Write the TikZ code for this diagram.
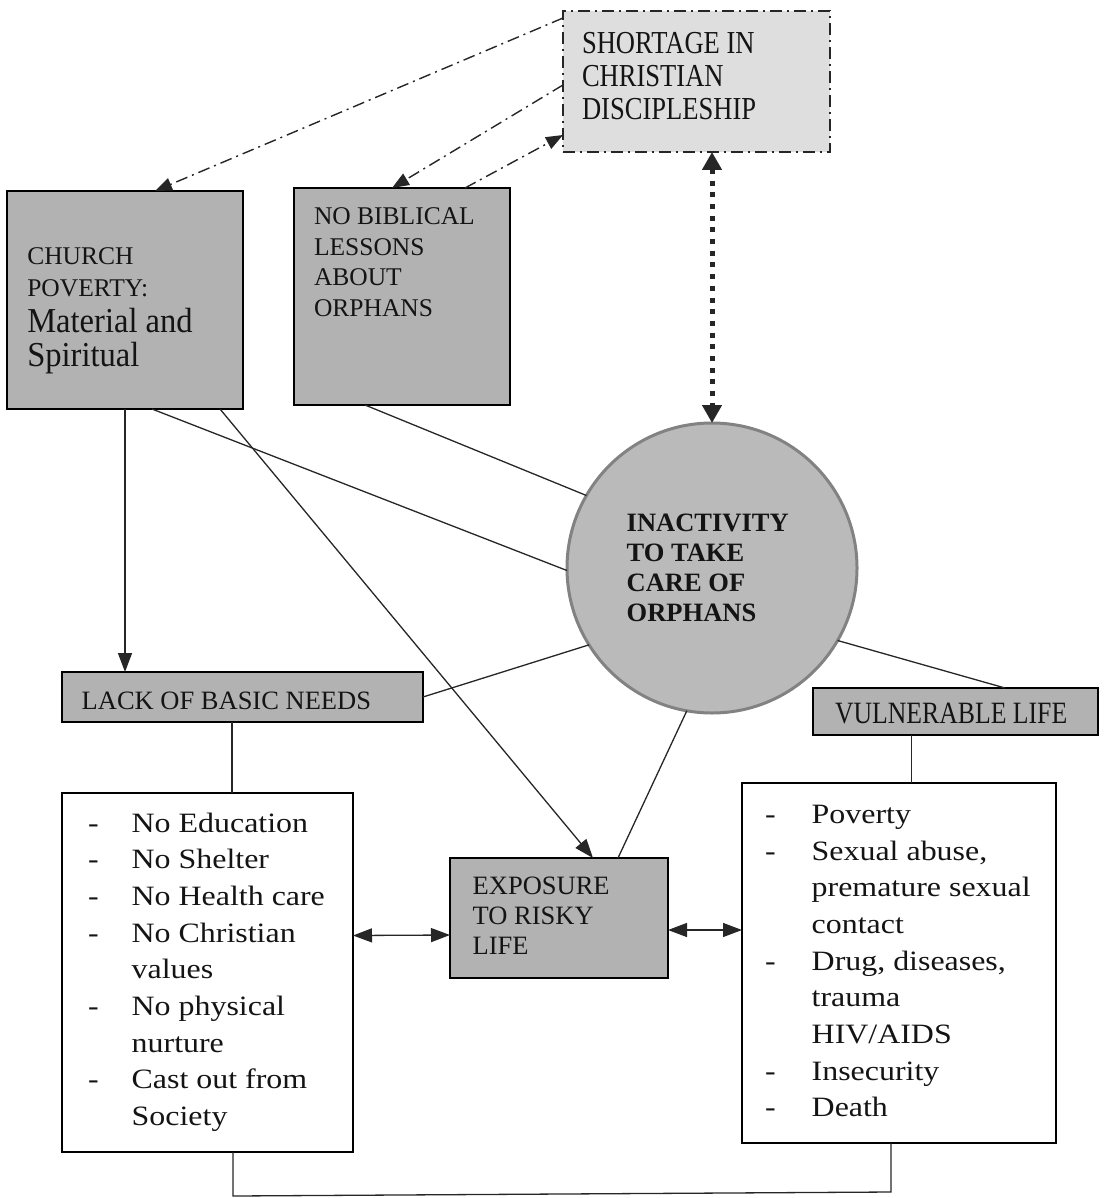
\documentclass[tikz,border=0pt]{standalone}
\usepackage{fontspec}
\setmainfont{Liberation Serif}
\newfontfamily\fnarrow{Liberation Serif}[FakeStretch=0.83]
\newfontfamily\fmid{Liberation Serif}[FakeStretch=0.93]
\newfontfamily\fwide{Liberation Serif}[FakeStretch=1.14]
\usetikzlibrary{arrows.meta,calc}
\definecolor{boxgray}{RGB}{178,178,178}
\definecolor{palegray}{RGB}{222,222,222}
\definecolor{circgray}{RGB}{186,186,186}
\definecolor{circedge}{RGB}{130,130,130}
\newcommand{\litemA}[1]{\makebox[43.7pt][l]{-}#1}
\newcommand{\lcontA}[1]{\hspace*{43.7pt}#1}
\newcommand{\litemB}[1]{\makebox[46.7pt][l]{-}#1}
\newcommand{\lcontB}[1]{\hspace*{46.7pt}#1}
\begin{document}
\begin{tikzpicture}[x=1pt,y=-1pt,
  graybox/.style={draw=black, line width=2pt, fill=boxgray, inner sep=0pt, outer sep=0pt, anchor=north west},
  listbox/.style={draw=black, line width=1.6pt, fill=white, inner sep=0pt, outer sep=0pt, anchor=north west},
  txt/.style={inner sep=0pt, outer sep=0pt, align=left, anchor=north west, text=black!92},
  conn/.style={line width=1.3pt, draw=black!85},
  tip/.style={-{Triangle[length=19pt,width=14pt]}},
  dbl/.style={{Triangle[length=19pt,width=14pt]}-{Triangle[length=19pt,width=14pt]}},
  dashdot/.style={line width=1.4pt, draw=black!85, dash pattern=on 12pt off 5pt on 2pt off 5pt},
  ddtip/.style={-{Triangle[length=17pt,width=13pt]}}
]
\useasboundingbox (0,0) rectangle (1106,1198);

% boxes
\node[draw=black!85, dashdot, fill=palegray, inner sep=0pt, outer sep=0pt, anchor=north west,
      minimum width=267pt, minimum height=141pt] (short) at (563,11) {};
\node[graybox, minimum width=236pt, minimum height=218pt] (church) at (7,191) {};
\node[graybox, minimum width=216pt, minimum height=217pt] (bible) at (294,188) {};
\node[circle, fill=circgray, draw=circedge, line width=3pt, minimum size=290pt, inner sep=0pt, outer sep=0pt] (circ) at (712,568) {};
\node[graybox, minimum width=361pt, minimum height=50pt] (lack) at (62,672) {};
\node[graybox, minimum width=285pt, minimum height=47pt] (vuln) at (813,688) {};
\node[listbox, minimum width=291pt, minimum height=359pt] (leftlist) at (62,793) {};
\node[graybox, minimum width=218pt, minimum height=120pt] (expo) at (450,858) {};
\node[listbox, minimum width=314pt, minimum height=360pt] (rightlist) at (742,783) {};

% texts
\node[txt, font=\fnarrow\fontsize{32}{33}\selectfont] (tshort) at (582,32.3) {SHORTAGE IN\\CHRISTIAN\\DISCIPLESHIP};
\node[txt, font=\fontsize{25.5}{31.7}\selectfont] (tchurchA) at (27.3,247.7) {CHURCH\\POVERTY:};
\node[txt, font=\fmid\fontsize{35}{34.3}\selectfont] (tchurchB) at (27.3,307.8) {Material and\\Spiritual};
\node[txt, font=\fontsize{25.5}{30.5}\selectfont] (tbible) at (314,207.7) {NO BIBLICAL\\LESSONS\\ABOUT\\ORPHANS};
\node[txt, font=\bfseries\fontsize{26.5}{30}\selectfont] (tcirc) at (626.7,513.8) {INACTIVITY\\TO TAKE\\CARE OF\\ORPHANS};
\node[txt, anchor=base west, font=\fontsize{26.5}{30}\selectfont] (tlack) at (81.7,709.3) {LACK OF BASIC NEEDS};
\node[txt, anchor=base west, font=\fnarrow\fontsize{31}{33}\selectfont] (tvuln) at (835,723.3) {VULNERABLE LIFE};
\node[txt, font=\fontsize{26.5}{30}\selectfont] (texpo) at (472.7,877) {EXPOSURE\\TO RISKY\\LIFE};
\node[txt, font=\fwide\fontsize{28}{36.7}\selectfont] (tleft) at (88,812.6)
  {\litemA{No Education}\\\litemA{No Shelter}\\\litemA{No Health care}\\\litemA{No Christian}\\\lcontA{values}\\\litemA{No physical}\\\lcontA{nurture}\\\litemA{Cast out from}\\\lcontA{Society}};
\node[txt, font=\fwide\fontsize{28}{36.7}\selectfont] (tright) at (765,805)
  {\litemB{Poverty}\\\litemB{Sexual abuse,}\\\lcontB{premature sexual}\\\lcontB{contact}\\\litemB{Drug, diseases,}\\\lcontB{trauma}\\\lcontB{HIV/AIDS}\\\litemB{Insecurity}\\\litemB{Death}};

% dash-dot connectors
\draw[dashdot, ddtip] ($(short.west)+(0,-63.5)$) -- ($(church.north)+(30,0)$);
\draw[dashdot, ddtip] ($(short.west)+(0,3.5)$) -- ($(bible.north)+(-10,0)$);
\draw[dashdot, ddtip] ($(bible.north)+(63,0)$) -- ($(short.west)+(0,53.5)$);

% thick dotted double arrow
\draw[line width=5pt, draw=black!85, dash pattern=on 5pt off 6.7pt,
      {Triangle[length=18pt,width=19pt]}-{Triangle[length=18pt,width=19pt]}]
      ($(short.south)+(15.5,0)$) -- (circ.north);

% solid connectors
\draw[conn, tip] (church.south) -- (church.south |- lack.north);
\draw[conn] ($(church.south)+(27,0)$) -- (circ.181);
\draw[conn, tip] ($(church.south)+(95,0)$) -- ($(expo.north)+(34,0)$);
\draw[conn] ($(bible.south)+(-37,0)$) -- (circ.150);
\draw[conn] (lack.east) -- (circ.212);
\draw[conn] (circ.260) -- ($(expo.north)+(59,0)$);
\draw[conn] (circ.330) -- ($(vuln.north)+(49.5,0)$);
\coordinate (la) at ($(lack.south)+(-10.5,0)$);
\draw[conn] (la) -- (la |- leftlist.north);
\coordinate (va) at ($(vuln.south)+(-44,0)$);
\draw[conn] (va) -- (va |- rightlist.north);
\draw[conn, dbl] ($(leftlist.east)+(0,-37)$) -- ($(expo.west)+(0,17)$);
\draw[conn, dbl] ($(expo.east)+(0,12)$) -- ($(rightlist.west)+(0,-33)$);
\coordinate (lb) at ($(leftlist.south)+(25.5,0)$);
\coordinate (rb) at ($(rightlist.south)+(-8,0)$);
\draw[conn] (lb) -- ++(0,44) -- ($(rb)+(0,49)$) -- (rb);
\end{tikzpicture}
\end{document}
